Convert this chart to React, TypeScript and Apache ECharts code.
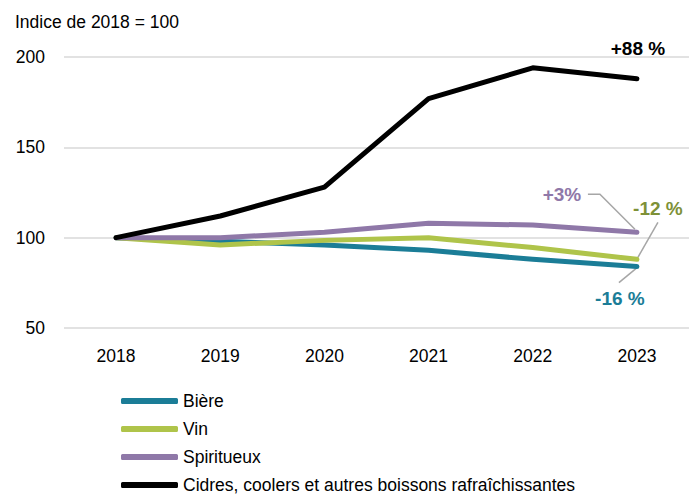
import React, { useEffect, useRef } from "react";
import * as echarts from "echarts";

const years = ["2018", "2019", "2020", "2021", "2022", "2023"];
const biere = [100, 98, 96, 93, 88, 84];
const vin = [100, 96, 98.5, 100, 94.5, 88];
const spiritueux = [100, 100, 103, 108, 107, 103];
const cidres = [100, 112, 128, 177, 194, 188];
const seriesNames = ["Bière", "Vin", "Spiritueux", "Cidres, coolers et autres boissons rafraîchissantes"];
const colors = ["#1b7d97", "#afc44a", "#8f78a8", "#000000"];
const endLabels = ["-16 %", "-12 %", "+3%", "+88 %"];
const labelColors = ["#1b7d97", "#7e9137", "#8f78a8", "#000000"];

const FONT = "'Liberation Sans', Arial, sans-serif";
const FS = 17.5;

export default function App() {
  const ref = useRef<HTMLDivElement>(null);
  useEffect(() => {
    const chart = echarts.init(ref.current!, null, { renderer: "svg" });
    const data = [biere, vin, spiritueux, cidres];
    chart.setOption({
      animation: false,
      textStyle: { fontFamily: FONT },
      grid: { left: 64, right: 4, top: 57, bottom: 495 - 328 },
      xAxis: {
        type: "category",
        data: years,
        boundaryGap: true,
        axisLine: { show: false },
        axisTick: { show: false },
        axisLabel: { color: "#000", fontSize: FS, fontFamily: FONT, margin: 19 },
      },
      yAxis: {
        type: "value",
        min: 50,
        max: 200,
        interval: 50,
        axisLine: { show: false },
        axisTick: { show: false },
        axisLabel: { color: "#000", fontSize: FS, fontFamily: FONT, margin: 19, align: "right" },
        splitLine: { lineStyle: { color: "#d9d9d9", width: 1.5 } },
      },
      legend: {
        orient: "vertical",
        left: 121,
        top: 392,
        padding: 0,
        itemWidth: 57,
        itemHeight: 6,
        itemGap: 10,
        icon: "roundRect",
        textStyle: { fontSize: FS, color: "#000", fontFamily: FONT, lineHeight: 17.5 },
        data: seriesNames,
      },
      series: data.map((d, i) => ({
        name: seriesNames[i],
        type: "line",
        data: d,
        color: colors[i],
        showSymbol: false,
        symbol: "none",
        lineStyle: { width: 5, color: colors[i], cap: "round", join: "round" },
        z: 2 + i,
      })),
    });

    const p = (s: number, idx: number) =>
      chart.convertToPixel({ xAxisIndex: 0, yAxisIndex: 0 }, [years[idx], data[s][idx]]) as number[];
    const last = 5;
    const pb = p(0, last), pv = p(1, last), ps = p(2, last), pc = p(3, last);
    const leader = { stroke: "#a6a6a6", lineWidth: 1.5, fill: "none" };
    const lbl = (text: string, x: number, y: number, color: string, align: string) => ({
      type: "text",
      x,
      y,
      style: { text, fill: color, font: `bold 19px ${FONT}`, textAlign: align, textVerticalAlign: "middle" },
    });
    chart.setOption({
      graphic: [
        { type: "text", left: 15, top: 13, style: { text: "Indice de 2018 = 100", fill: "#000", font: `${FS}px ${FONT}` } },
        lbl(endLabels[3], pc[0] + 1, pc[1] - 30, labelColors[3], "center"),
        lbl(endLabels[2], ps[0] - 75, ps[1] - 38, labelColors[2], "center"),
        { type: "polyline", shape: { points: [[ps[0] - 49, ps[1] - 38], [ps[0] - 37, ps[1] - 38], [ps[0] - 2, ps[1] - 3]] }, style: leader },
        lbl(endLabels[1], pv[0] + 21, pv[1] - 51, labelColors[1], "center"),
        { type: "polyline", shape: { points: [[pv[0] + 21, pv[1] - 37], [pv[0] + 1, pv[1] - 2]] }, style: leader },
        lbl(endLabels[0], pb[0] - 17, pb[1] + 32, labelColors[0], "center"),
        { type: "polyline", shape: { points: [[pb[0] - 18, pb[1] + 16], [pb[0] - 1, pb[1] + 2]] }, style: leader },
      ],
    });
    return () => chart.dispose();
  }, []);
  return <div ref={ref} style={{ width: 693, height: 495, position: "absolute", left: 0, top: 0, background: "#fff" }} />;
}
